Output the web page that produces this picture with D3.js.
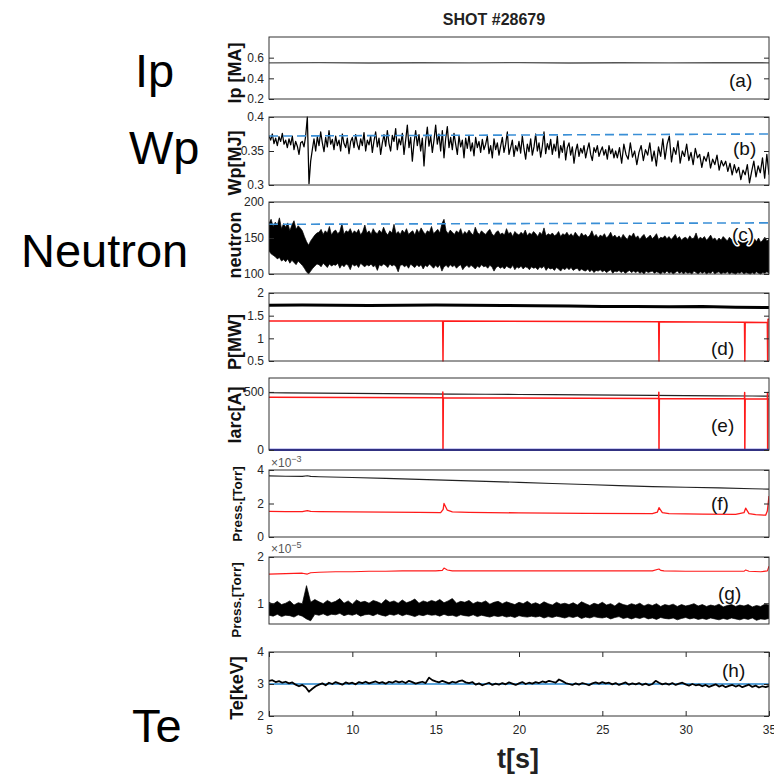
<!DOCTYPE html>
<html><head><meta charset="utf-8">
<script src="https://cdn.jsdelivr.net/npm/d3@7/dist/d3.min.js"></script>
<style>
body{margin:0;background:#fff}
svg{display:block}
text{font-family:"Liberation Sans",Arial,Helvetica,sans-serif}
</style>
</head><body>
<svg id="chart" width="774" height="774"></svg>
<script>
// ---------------- DATA ----------------
const title = "SHOT #28679";
const xTicks = [5, 10, 15, 20, 25, 30, 35];

// (a) Ip [MA]
const ipT = [5, 8, 11, 14, 17, 20, 23, 26, 29, 32, 35];
const ipV = [0.55, 0.552, 0.549, 0.551, 0.55, 0.552, 0.549, 0.551, 0.55, 0.551, 0.55];

// (b) Wp [MJ] : dense part sampled every 0.1 s from 5.0 s, sparse part every 0.13 s from 25.9 s
const wpDenseStart = 5.0, wpDenseStep = 0.1;
const wpDense = [
0.372,0.366,0.375,0.361,0.369,0.358,0.371,0.364,0.376,0.360,
0.366,0.355,0.368,0.359,0.372,0.352,0.364,0.357,0.345,0.362,
0.364,0.356,0.372,0.400,0.302,0.335,0.352,0.368,0.350,0.371,
0.358,0.378,0.362,0.349,0.370,0.356,0.380,0.360,0.367,0.352,
0.372,0.358,0.366,0.350,0.375,0.361,0.355,0.369,0.346,0.364,
0.370,0.355,0.374,0.360,0.352,0.368,0.358,0.377,0.350,0.366,
0.359,0.372,0.348,0.365,0.378,0.356,0.369,0.345,0.362,0.374,
0.357,0.380,0.361,0.350,0.373,0.364,0.383,0.352,0.368,0.359,
0.376,0.345,0.366,0.388,0.355,0.370,0.335,0.362,0.380,0.358,
0.374,0.350,0.369,0.328,0.365,0.385,0.357,0.372,0.348,0.366,
0.388,0.360,0.375,0.350,0.380,0.340,0.368,0.386,0.355,0.370,
0.352,0.376,0.360,0.345,0.372,0.356,0.366,0.340,0.369,0.354,
0.373,0.350,0.362,0.343,0.370,0.355,0.364,0.348,0.367,0.352,
0.360,0.372,0.346,0.358,0.340,0.368,0.352,0.362,0.344,0.357,
0.370,0.348,0.360,0.378,0.345,0.355,0.366,0.342,0.358,0.350,
0.364,0.347,0.372,0.353,0.338,0.360,0.349,0.368,0.344,0.356,
0.375,0.350,0.362,0.341,0.357,0.378,0.346,0.361,0.352,0.367,
0.345,0.360,0.350,0.372,0.340,0.358,0.348,0.365,0.337,0.355,
0.362,0.344,0.356,0.332,0.350,0.360,0.342,0.354,0.347,0.358,
0.340,0.352,0.362,0.345,0.336,0.355,0.348,0.358,0.342,0.350,
0.356,0.344,0.352,0.338,0.358,0.346,0.353,0.340,0.350];
const wpSparseStart = 25.9, wpSparseStep = 0.13;
const wpSparse = [
0.340,0.355,0.332,0.360,0.345,0.338,0.362,0.341,0.350,0.330,
0.348,0.358,0.336,0.352,0.344,0.362,0.335,0.350,0.328,0.356,
0.342,0.368,0.338,0.360,0.372,0.334,0.355,0.345,0.365,0.332,
0.350,0.342,0.360,0.336,0.348,0.330,0.354,0.340,0.345,0.326,
0.342,0.335,0.348,0.325,0.338,0.330,0.344,0.322,0.336,0.328,
0.335,0.320,0.332,0.315,0.330,0.318,0.326,0.308,0.322,0.315,
0.330,0.303,0.320,0.335,0.312,0.328,0.318,0.340,0.310,0.345,0.315];
const wpRefT = [5, 35];
const wpRefV = [0.372, 0.375];

// (c) neutron : envelope of the dense signal, every 0.125 s from 5 s
const nStart = 5.0, nStep = 0.125;
const nUpper = [
170,176,166,172,168,178,163,170, 165,171,160,168,174,162,167,164,
160,152,145,140,146,150,154,157, 158,162,155,160,157,166,154,159,
161,156,159,170,155,160,158,163, 156,160,157,162,154,159,168,157,
160,155,163,158,156,161,157,165, 158,154,160,157,169,156,159,155,
161,157,163,155,158,160,154,162, 157,164,159,155,160,158,166,156,
159,162,157,170,176,160,156,161, 158,155,160,157,163,154,159,156,
161,157,154,165,158,155,160,157, 155,159,162,156,153,158,160,155,
157,154,163,156,158,152,159,156, 154,158,155,161,153,157,155,159,
156,152,158,155,164,153,156,154, 157,153,155,159,152,156,154,158,
153,156,152,158,154,151,157,153, 155,151,154,160,152,155,150,154,
152,156,150,153,158,151,154,150, 153,149,155,151,148,154,152,157,
150,153,148,152,155,149,151,154, 149,152,156,148,151,150,153,149,
152,148,151,155,149,152,147,150, 151,148,153,149,150,157,148,151,
149,152,147,150,154,148,150,146, 150,147,152,149,146,151,148,150,
147,145,149,146,144,148,145,147, 146,149,145,150,144,147,151,146,
148];
const nLower = [
132,128,126,124,121,123,118,120, 117,121,115,119,116,113,118,115,
112,108,103,100,104,108,111,114, 113,110,115,112,109,114,111,113,
112,115,108,113,110,114,112,106, 114,111,113,109,115,112,110,113,
111,114,110,112,105,113,111,114, 112,109,114,111,113,110,103,112,
113,110,112,108,114,111,109,113, 110,113,107,112,110,114,111,108,
112,109,113,104,110,112,109,113, 110,112,108,111,113,106,110,112,
109,112,110,107,111,109,113,110, 111,108,112,110,104,109,111,108,
110,107,111,109,108,112,106,110, 108,111,107,110,109,106,110,108,
109,106,110,108,111,105,109,107, 108,105,109,107,104,108,106,109,
106,109,105,107,108,104,107,105, 104,107,103,106,102,105,104,106,
103,105,102,104,106,101,104,103, 105,102,104,101,103,105,102,104,
102,104,101,103,100,104,102,103, 104,101,103,102,100,103,101,104,
101,103,100,102,104,101,103,100, 103,101,102,100,104,102,100,103,
101,103,100,102,101,104,100,102, 103,100,102,101,103,100,102,101,
100,102,101,103,100,102,101,100, 102,100,103,101,100,102,101,103,
101];
const nRefT = [5, 35];
const nRefV = [169, 171];

// (d) P [MW]
const pBlackT = [5, 7, 9, 11, 13, 15, 17, 19, 21, 23, 25, 27, 29, 31, 33, 35];
const pBlackV = [1.73, 1.735, 1.73, 1.725, 1.73, 1.735, 1.73, 1.725, 1.72, 1.715, 1.70, 1.70, 1.695, 1.70, 1.685, 1.68];
const pRedT = [5, 15.42, 15.44, 15.46, 28.38, 28.40, 28.42, 33.53, 33.55, 33.57, 34.90, 34.92, 34.94, 35];
const pRedV = [1.385, 1.38, 0.5, 1.38, 1.365, 0.5, 1.365, 1.355, 0.5, 1.355, 1.35, 0.5, 1.42, 1.42];

// (e) Iarc [A]
const eBlackT = [5, 6, 8, 10, 12, 14, 16, 18, 20, 22, 24, 26, 28, 30, 32, 34, 35];
const eBlackV = [493, 492, 490, 488, 486, 484, 482, 480, 478, 476, 474, 472, 470, 468, 466, 465, 464];
const eRedT = [5, 15.42, 15.43, 15.44, 15.46, 28.38, 28.39, 28.40, 28.42, 33.53, 33.54, 33.55, 33.57, 34.90, 34.91, 34.92, 34.94, 35];
const eRedV = [455, 450, 500, 0, 450, 444, 498, 0, 444, 441, 495, 0, 441, 439, 495, 0, 440, 440];
const eBlueT = [5, 35];
const eBlueV = [1, 1];

// (f) Press. [Torr] x1e-3
const fBlackT = [5, 6, 7, 7.3, 7.5, 8, 10, 12, 14, 16, 18, 20, 22, 24, 26, 28, 30, 32, 34, 35];
const fBlackV = [3.65, 3.63, 3.62, 3.66, 3.62, 3.60, 3.55, 3.50, 3.44, 3.38, 3.32, 3.26, 3.19, 3.13, 3.07, 3.01, 2.97, 2.93, 2.88, 2.86];
const fRedT = [5, 6, 7, 7.3, 7.5, 8, 10, 12, 14, 15.3, 15.45, 15.5, 15.7, 16, 17, 20, 24, 28, 28.3, 28.4, 28.6, 29, 31, 33, 33.5, 33.6, 33.8, 34.2, 34.8, 34.9, 35];
const fRedV = [1.53, 1.52, 1.52, 1.58, 1.53, 1.52, 1.50, 1.49, 1.47, 1.46, 1.65, 2.00, 1.60, 1.50, 1.47, 1.44, 1.41, 1.40, 1.48, 1.75, 1.45, 1.40, 1.37, 1.35, 1.45, 1.72, 1.40, 1.33, 1.30, 1.55, 2.45];

// (g) Press. [Torr] x1e-5
const gStart = 5.0, gStep = 0.25;
const gUpper = [
1.02,0.98,1.04,0.97,1.00,1.05,0.96,1.01, 0.99,1.38,1.02,1.08,1.03,0.99,1.06,1.01,
1.04,1.10,1.00,1.05,0.98,1.07,1.02,1.04, 1.00,1.06,1.03,0.99,1.08,1.02,1.05,1.00,
1.07,1.01,1.04,1.09,1.00,1.05,1.02,1.06, 1.03,1.08,1.01,1.05,1.10,1.00,1.04,1.02,
1.06,0.99,1.03,1.01,1.05,0.98,1.02,1.04, 0.99,1.03,1.00,0.97,1.02,0.99,1.04,0.98,
1.01,0.97,1.03,0.99,0.96,1.02,0.98,1.00, 0.97,1.01,0.96,1.03,0.99,0.95,1.00,0.97,
1.02,0.96,0.99,0.94,1.01,0.97,0.95,0.99, 0.96,1.00,0.94,0.98,0.95,0.99,0.93,0.97,
0.95,0.98,0.93,0.97,0.94,0.96,0.99,0.94, 0.97,0.93,0.96,0.94,0.98,0.92,0.95,0.97,
0.93,0.96,0.94,0.97,0.92,0.95,0.93,0.98, 0.96];
const gLower = [
0.74,0.72,0.76,0.71,0.74,0.73,0.70,0.75, 0.72,0.66,0.62,0.76,0.74,0.77,0.73,0.76,
0.75,0.78,0.73,0.76,0.74,0.77,0.72,0.75, 0.76,0.73,0.77,0.74,0.72,0.76,0.74,0.77,
0.73,0.76,0.74,0.71,0.75,0.73,0.76,0.74, 0.75,0.72,0.76,0.73,0.74,0.71,0.75,0.73,
0.72,0.75,0.71,0.74,0.72,0.70,0.73,0.71, 0.73,0.70,0.72,0.69,0.73,0.71,0.70,0.72,
0.70,0.72,0.68,0.71,0.69,0.72,0.70,0.68, 0.71,0.69,0.72,0.67,0.70,0.68,0.71,0.69,
0.68,0.70,0.66,0.69,0.71,0.67,0.69,0.66, 0.69,0.67,0.70,0.66,0.68,0.65,0.69,0.67,
0.66,0.68,0.64,0.67,0.69,0.66,0.68,0.65, 0.67,0.65,0.68,0.66,0.64,0.67,0.65,0.68,
0.66,0.64,0.67,0.65,0.68,0.63,0.66,0.65, 0.67];
const gRedT = [5, 6, 7, 7.3, 7.5, 8, 9, 10, 11, 12, 13, 14, 15, 15.4, 15.5, 15.7, 16, 17, 18, 20, 22, 24, 26, 28, 28.4, 28.5, 28.7, 30, 32, 33.5, 33.6, 33.8, 34.5, 34.9, 35];
const gRedV = [1.63, 1.64, 1.65, 1.63, 1.66, 1.67, 1.68, 1.68, 1.69, 1.69, 1.70, 1.70, 1.70, 1.71, 1.76, 1.72, 1.70, 1.70, 1.70, 1.70, 1.70, 1.70, 1.70, 1.70, 1.74, 1.71, 1.70, 1.69, 1.69, 1.69, 1.72, 1.69, 1.68, 1.70, 1.80];

// (h) Te [keV], every 0.2 s from 5 s
const teStart = 5.0, teStep = 0.2;
const teV = [
3.10,3.12,3.06,3.09,3.04,3.07,3.02,3.05,2.98,2.93,
2.97,2.90,2.76,2.85,2.93,2.98,3.02,2.96,3.04,3.00,
3.06,3.02,2.98,3.05,3.01,3.04,2.99,3.06,3.03,3.07,
3.02,3.05,3.08,3.03,3.06,3.01,3.07,3.04,3.09,3.05,
3.08,3.03,3.10,3.06,3.01,3.04,3.07,3.03,3.20,3.12,
3.08,3.05,3.10,3.06,3.02,3.07,3.04,3.09,3.11,3.05,
3.03,3.06,2.98,3.02,2.96,3.00,3.04,2.97,3.01,2.98,
3.03,2.99,3.05,3.01,2.97,3.02,3.06,3.00,3.04,3.01,
3.06,3.03,3.08,3.05,3.10,3.07,3.04,3.14,3.09,3.03,
3.00,2.97,3.02,2.98,3.03,3.00,2.96,3.02,3.05,3.01,
3.06,3.02,3.04,2.99,3.03,2.97,3.01,3.05,2.98,3.02,
2.99,3.03,2.97,3.01,2.96,3.00,3.10,3.04,2.99,3.02,
2.98,3.03,2.97,3.01,3.04,2.99,2.95,3.00,2.96,2.98,
2.93,2.97,2.91,2.95,2.99,2.92,2.96,2.90,2.94,2.97,
2.92,2.96,2.90,2.94,2.98,2.91,2.95,2.89,2.93,2.90,
2.94];
const teRefT = [5, 35];
const teRefV = [3.0, 3.0];

// ---------------- DRAW ----------------
const svg = d3.select("#chart");
const L = 269, R = 769;
const x = d3.scaleLinear().domain([5, 35]).range([L, R]);
const axisColor = "#262626";
const redC = "#ff1a1a";

const zip = (t, v) => t.map((d, i) => [d, v[i]]);
const grid = (t0, dt, v) => v.map((d, i) => [t0 + i * dt, d]);

let clipId = 0;
function panel(o) {
  const y = d3.scaleLinear().domain(o.domain).range([o.bottom, o.top]);
  const g = svg.append("g");
  const id = "clip" + (clipId++);
  svg.append("clipPath").attr("id", id).append("rect")
    .attr("x", L).attr("y", o.top - 1).attr("width", R - L).attr("height", o.bottom - o.top + 2);
  const content = g.append("g").attr("clip-path", `url(#${id})`);
  const la = g.append("g").attr("transform", `translate(${L},0)`)
    .call(d3.axisLeft(y).tickValues(o.ticks).tickSize(-5).tickPadding(5).tickFormat(o.fmt || (d => d)));
  la.select(".domain").remove();
  la.selectAll("line").attr("stroke", axisColor);
  la.selectAll("text").attr("font-size", 12).attr("fill", axisColor);
  const ra = g.append("g").attr("transform", `translate(${R},0)`)
    .call(d3.axisRight(y).tickValues(o.ticks).tickSize(-5).tickFormat(""));
  ra.select(".domain").remove();
  ra.selectAll("line").attr("stroke", axisColor);
  g.append("text").attr("transform", `translate(${o.lx},${o.ly}) rotate(-90)`)
    .attr("text-anchor", "middle").attr("dominant-baseline", "central")
    .attr("font-weight", "bold").attr("font-size", o.lsize || 18).attr("fill", "#111")
    .text(o.label);
  const tag = g.append("text").attr("x", o.tagX).attr("y", o.tagY).attr("font-size", 19).attr("fill", "#111").text(o.tag);
  if (o.halo) tag.attr("stroke", "#fff").attr("stroke-width", 3).attr("paint-order", "stroke").attr("stroke-linejoin", "round");
  return {y, content, g, o};
}
function box(p) {
  p.g.append("rect").attr("x", L).attr("y", p.o.top).attr("width", R - L).attr("height", p.o.bottom - p.o.top)
    .attr("fill", "none").attr("stroke", "#333").attr("stroke-width", 1);
}
function line(p, data, color, w, dash) {
  const gen = d3.line().x(d => x(d[0])).y(d => p.y(d[1]));
  const path = p.content.append("path").datum(data).attr("d", gen)
    .attr("fill", "none").attr("stroke", color).attr("stroke-width", w).attr("stroke-linejoin", "round");
  if (dash) path.attr("stroke-dasharray", dash);
  return path;
}
function band(p, t0, dt, up, lo) {
  const data = up.map((u, i) => ({t: t0 + i * dt, u, l: lo[i]}));
  const gen = d3.area().x(d => x(d.t)).y0(d => p.y(d.l)).y1(d => p.y(d.u));
  p.content.append("path").datum(data).attr("d", gen)
    .attr("fill", "#000").attr("stroke", "#000").attr("stroke-width", 0.7).attr("stroke-linejoin", "miter");
}
function sci(xp, yp, exp) {
  const t = svg.append("text").attr("x", xp).attr("y", yp).attr("font-size", 12).attr("fill", "#555");
  t.append("tspan").text("×10");
  t.append("tspan").attr("dy", -5).attr("font-size", 9).text(exp);
}

// title
svg.append("text").attr("x", 494).attr("y", 25).attr("text-anchor", "middle")
  .attr("font-weight", "bold").attr("font-size", 16).attr("fill", "#222").text(title);

// big side labels
const side = [["Ip", 135, 87], ["Wp", 129, 164], ["Neutron", 21, 267], ["Te", 132, 742]];
side.forEach(s => svg.append("text").attr("x", s[1]).attr("y", s[2]).attr("font-size", 47).attr("fill", "#000").text(s[0]));

// (a)
const pa = panel({top: 37, bottom: 99, domain: [0.2, 0.8], ticks: [0.2, 0.4, 0.6], fmt: d3.format(".1f"),
  label: "Ip [MA]", lx: 235, ly: 73, tag: "(a)", tagX: 729, tagY: 87});
line(pa, zip(ipT, ipV), "#555", 1.4);
box(pa);

// (b)
const pb = panel({top: 117, bottom: 185, domain: [0.3, 0.4], ticks: [0.3, 0.35, 0.4], fmt: d => d3.format("")(+d.toFixed(2)),
  label: "Wp[MJ]", lx: 235, ly: 163, tag: "(b)", tagX: 733, tagY: 155});
line(pb, grid(wpDenseStart, wpDenseStep, wpDense).concat(grid(wpSparseStart, wpSparseStep, wpSparse)), "#000", 1.25);
line(pb, zip(wpRefT, wpRefV), "#3a8fd6", 1.6, "9,5");
box(pb);

// (c)
const pc = panel({top: 202, bottom: 274, domain: [100, 200], ticks: [100, 150, 200],
  label: "neutron", lx: 235, ly: 245, tag: "(c)", tagX: 732, tagY: 241, halo: true});
band(pc, nStart, nStep, nUpper, nLower);
line(pc, zip(nRefT, nRefV), "#3a8fd6", 1.6, "9,5");
box(pc);

// (d)
const pd = panel({top: 293, bottom: 361, domain: [0.5, 2], ticks: [0.5, 1, 1.5, 2],
  label: "P[MW]", lx: 235, ly: 342, tag: "(d)", tagX: 711, tagY: 355});
line(pd, zip(pBlackT, pBlackV), "#000", 3);
line(pd, zip(pRedT, pRedV), redC, 1.5);
box(pd);

// (e)
const pe = panel({top: 378, bottom: 450, domain: [0, 620], ticks: [0, 500],
  label: "Iarc[A]", lx: 235, ly: 415, tag: "(e)", tagX: 711, tagY: 432});
line(pe, zip(eBlackT, eBlackV), "#222", 1.2);
line(pe, zip(eRedT, eRedV), redC, 1.5);
line(pe, zip(eBlueT, eBlueV), "#3030d0", 2.5);
box(pe);

// (f)
const pf = panel({top: 470, bottom: 537, domain: [0, 4], ticks: [0, 2, 4],
  label: "Press.[Torr]", lsize: 13.5, lx: 237, ly: 504, tag: "(f)", tagX: 711, tagY: 510});
line(pf, zip(fBlackT, fBlackV), "#222", 1.1);
line(pf, zip(fRedT, fRedV), redC, 1.3);
box(pf);
sci(271, 467, "−3");

// (g)
const pg = panel({top: 557, bottom: 624, domain: [0.55, 2], ticks: [1, 2],
  label: "Press.[Torr]", lsize: 13.5, lx: 236, ly: 600, tag: "(g)", tagX: 718, tagY: 600});
band(pg, gStart, gStep, gUpper, gLower);
line(pg, zip(gRedT, gRedV), redC, 1.1);
box(pg);
sci(271, 553, "−5");

// (h)
const ph = panel({top: 652, bottom: 716, domain: [2, 4], ticks: [2, 3, 4],
  label: "Te[keV]", lx: 237, ly: 688, tag: "(h)", tagX: 722, tagY: 677});
line(ph, zip(teRefT, teRefV), "#5aa2d8", 2);
line(ph, grid(teStart, teStep, teV), "#000", 1.8);
const xb = ph.g.append("g").attr("transform", "translate(0,716)")
  .call(d3.axisBottom(x).tickValues(xTicks).tickSize(-5).tickPadding(9));
xb.select(".domain").remove();
xb.selectAll("line").attr("stroke", axisColor);
xb.selectAll("text").attr("font-size", 12).attr("fill", axisColor);
const xt = ph.g.append("g").attr("transform", "translate(0,652)")
  .call(d3.axisTop(x).tickValues(xTicks).tickSize(-5).tickFormat(""));
xt.select(".domain").remove();
xt.selectAll("line").attr("stroke", axisColor);
box(ph);

// x label
svg.append("text").attr("x", 518).attr("y", 768).attr("text-anchor", "middle")
  .attr("font-weight", "bold").attr("font-size", 27).attr("fill", "#222").text("t[s]");
</script>
</body></html>
